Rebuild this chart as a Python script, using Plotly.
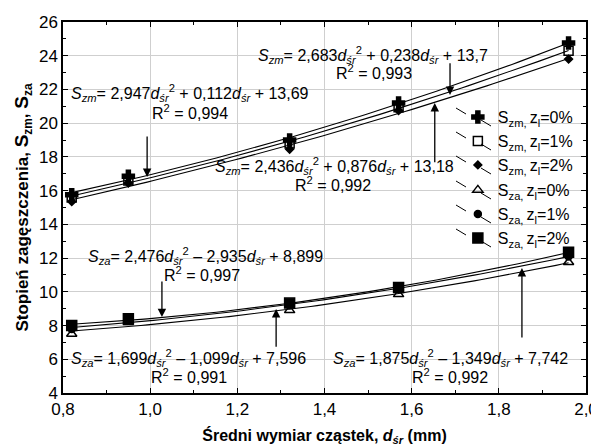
import numpy as np
import plotly.graph_objects as go

# ---- data ----
d_sr = [0.82, 0.95, 1.32, 1.57, 1.96]
szm_0 = [15.75, 16.85, 19.0, 21.2, 24.75]
szm_1 = [15.6, 16.6, 18.8, 20.95, 24.3]
szm_2 = [15.35, 16.45, 18.45, 20.75, 23.8]
sza_0 = [7.5, 8.2, 8.9, 9.85, 11.75]
sza_1 = [7.8, 8.3, 9.2, 10.2, 12.1]
sza_2 = [8.0, 8.4, 9.33, 10.25, 12.35]

series_names = [
    "S<sub>zm, </sub>z<sub>l</sub>=0%",
    "S<sub>zm, </sub>z<sub>l</sub>=1%",
    "S<sub>zm, </sub>z<sub>l</sub>=2%",
    "S<sub>za, </sub>z<sub>l</sub>=0%",
    "S<sub>za, </sub>z<sub>l</sub>=1%",
    "S<sub>za, </sub>z<sub>l</sub>=2%",
]
series_vals = [szm_0, szm_1, szm_2, sza_0, sza_1, sza_2]
symbols = ["cross", "square-open", "diamond", "triangle-up-open", "circle", "square"]
sizes = [10, 9, 6, 9, 7, 10]

x_ticks = [0.8, 1.0, 1.2, 1.4, 1.6, 1.8, 2.0]
y_ticks = [4, 6, 8, 10, 12, 14, 16, 18, 20, 22, 24, 26]

fig = go.Figure()

# fitted quadratic trend lines (2nd-order fit of each series)
xs = np.linspace(min(d_sr), max(d_sr), 80)
for vals in series_vals:
    c = np.polyfit(d_sr, vals, 2)
    fig.add_trace(go.Scatter(x=xs, y=np.polyval(c, xs), mode="lines",
                             line=dict(color="black", width=1.1),
                             showlegend=False, hoverinfo="skip"))

FONT = "Arial, Liberation Sans, sans-serif"

# plot-area geometry in page pixels (used only for legend placement)
L, T, PW, PH = 63, 22, 523, 371
leg_rows_px = [117, 141, 165, 190, 214, 238]

legend_layouts = {}
for i, (name, vals, sym, sz) in enumerate(zip(series_names, series_vals, symbols, sizes)):
    lg = "legend" if i == 0 else f"legend{i + 1}"
    fig.add_trace(go.Scatter(
        x=d_sr, y=vals, mode="markers", name=name, legend=lg,
        marker=dict(symbol=sym, size=sz, color="black",
                    line=dict(color="black", width=1.5)),
    ))
    legend_layouts[lg] = dict(
        x=0.755, y=(T + PH - leg_rows_px[i]) / PH, xanchor="left", yanchor="middle",
        bgcolor="rgba(0,0,0,0)", borderwidth=0,
        font=dict(family=FONT, size=16, color="black"),
        itemsizing="trace",
    )

def eq(x, y, text):
    fig.add_annotation(x=x, y=y, xref="x", yref="y", text=text, showarrow=False,
                       font=dict(family=FONT, size=16, color="black"),
                       xanchor="center", yanchor="middle", bgcolor="rgba(0,0,0,0)")

def arrow(x, y, ay):
    fig.add_annotation(x=x, y=y, xref="x", yref="y", ax=x, ay=ay, axref="x", ayref="y",
                       text="", showarrow=True, arrowhead=2, arrowsize=1.3,
                       arrowwidth=1.3, arrowcolor="black")

S_zm = "<i>S<sub>zm</sub></i>="
S_za = "<i>S<sub>za</sub></i>="
D = "<i>d<sub>śr</sub></i>"

# equation labels (x, y in data units)
eq(1.512, 24.05, S_zm + " 2,683" + D + "<sup>2</sup> + 0,238" + D + " + 13,7")
eq(1.513, 23.05, "R<sup>2</sup> = 0,993")
arrow(1.688, 21.67, 23.65)

eq(1.092, 21.8, S_zm + " 2,947" + D + "<sup>2</sup> + 0,112" + D + " + 13,69")
eq(1.092, 20.65, "R<sup>2</sup> = 0,994")
arrow(0.993, 16.81, 19.3)

eq(1.424, 17.45, S_zm + " 2,436" + D + "<sup>2</sup> + 0,876" + D + " + 13,18")
eq(1.42, 16.4, "R<sup>2</sup> = 0,992")
arrow(1.653, 21.2, 17.6)

eq(1.126, 12.15, S_za + " 2,476" + D + "<sup>2</sup> – 2,935" + D + " + 8,899")
eq(1.12, 11.05, "R<sup>2</sup> = 0,997")
arrow(1.027, 8.5, 10.7)

eq(1.089, 6.1, S_za + " 1,699" + D + "<sup>2</sup> – 1,099" + D + " + 7,596")
eq(1.089, 5.0, "R<sup>2</sup> = 0,991")
arrow(1.289, 8.98, 6.65)

eq(1.689, 6.1, S_za + " 1,875" + D + "<sup>2</sup> – 1,349" + D + " + 7,742")
eq(1.689, 5.0, "R<sup>2</sup> = 0,992")
arrow(1.853, 11.41, 7.2)

# diagonal strokes beside legend symbols (legend decoration, paper coords)
for py in leg_rows_px:
    for (x0, y0, x1, y1) in [(456, py - 9, 466, py - 3), (481, py + 3, 491, py + 9)]:
        fig.add_shape(type="line", xref="paper", yref="paper",
                      x0=(x0 - L) / PW, x1=(x1 - L) / PW,
                      y0=(T + PH - y0) / PH, y1=(T + PH - y1) / PH,
                      line=dict(color="black", width=1))

axis_common = dict(
    showline=True, linecolor="black", linewidth=1.5, mirror="ticks",
    ticks="inside", ticklen=5, tickcolor="black", tickwidth=1,
    showgrid=True, gridcolor="#cfcfcf", gridwidth=1, zeroline=False,
    automargin=False,
    tickfont=dict(family=FONT, size=17, color="black"),
)

fig.update_xaxes(range=[0.8, 2.0], tickvals=x_ticks, tickformat=".1f",
                 minor=dict(dtick=0.1, ticks="inside", ticklen=3, tickcolor="black", showgrid=False),
                 title=dict(text="<b>Średni wymiar cząstek, <i>d<sub>śr</sub></i> (mm)</b>",
                            font=dict(family=FONT, size=16, color="black"), standoff=12),
                 **axis_common)
fig.update_yaxes(range=[4, 26], tickvals=y_ticks,
                 minor=dict(dtick=1, ticks="inside", ticklen=3, tickcolor="black", showgrid=False),
                 title=dict(text="<b>Stopień zagęszczenia, <span style='font-size:19px'>S</span><sub>zm</sub>, "
                                 "<span style='font-size:19px'>S</span><sub>za</sub></b>",
                            font=dict(family=FONT, size=17, color="black"), standoff=6),
                 **axis_common)

# page body adds an 8 px offset, so the figure is 8 px smaller with 8 px less top/left margin
fig.update_layout(
    width=591, height=438,
    margin=dict(l=55, r=13, t=14, b=53),
    paper_bgcolor="white", plot_bgcolor="white",
    separators=", ",
    font=dict(family=FONT, color="black"),
    **legend_layouts,
)

fig.write_html("out.html")
